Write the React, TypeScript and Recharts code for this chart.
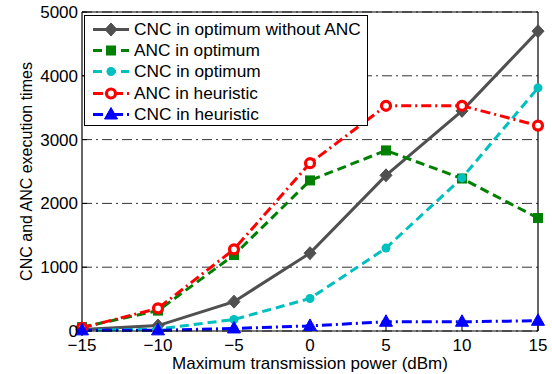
import React from 'react';
import { LineChart, Line, XAxis, YAxis, CartesianGrid, Label } from 'recharts';

const powerDbm = [-15, -10, -5, 0, 5, 10, 15];
const cncOptimumWithoutAnc = [25, 85, 460, 1220, 2440, 3450, 4700];
const ancOptimum = [60, 320, 1190, 2360, 2830, 2390, 1770];
const cncOptimum = [10, 30, 180, 510, 1300, 2400, 3810];
const ancHeuristic = [50, 355, 1280, 2630, 3530, 3530, 3220];
const cncHeuristic = [10, 10, 40, 80, 145, 145, 160];

const xTicks = [-15, -10, -5, 0, 5, 10, 15];
const yTicks = [0, 1000, 2000, 3000, 4000, 5000];

const xLabel = 'Maximum transmission power (dBm)';
const yLabel = 'CNC and ANC execution times';

const seriesNames = [
  'CNC in optimum without ANC',
  'ANC in optimum',
  'CNC in optimum',
  'ANC in heuristic',
  'CNC in heuristic',
];

type Shape = 'diamond' | 'square' | 'circle' | 'ring' | 'triangle';

const seriesStyles: { key: string; color: string; dash?: string; shape: Shape }[] = [
  { key: 's0', color: '#505050', shape: 'diamond' },
  { key: 's1', color: '#008000', dash: '9 5', shape: 'square' },
  { key: 's2', color: '#00BFBF', dash: '9 5', shape: 'circle' },
  { key: 's3', color: '#FF0000', dash: '10 4 2 4', shape: 'ring' },
  { key: 's4', color: '#0000FF', dash: '10 4 2 4', shape: 'triangle' },
];

const seriesValues = [cncOptimumWithoutAnc, ancOptimum, cncOptimum, ancHeuristic, cncHeuristic];

const data = powerDbm.map((x, i) => {
  const row: Record<string, number> = { x };
  seriesValues.forEach((vals, s) => {
    row['s' + s] = vals[i];
  });
  return row;
});

const FONT = '"Liberation Sans", Arial, Helvetica, sans-serif';

function markerEl(shape: Shape, color: string, cx: number, cy: number, key?: string | number) {
  switch (shape) {
    case 'diamond':
      return (
        <polygon key={key} points={`${cx},${cy - 6.5} ${cx + 6},${cy} ${cx},${cy + 6.5} ${cx - 6},${cy}`} fill={color} stroke={color} strokeWidth={1} />
      );
    case 'square':
      return <rect key={key} x={cx - 4.5} y={cy - 4.5} width={9} height={9} fill={color} stroke={color} strokeWidth={1} />;
    case 'circle':
      return <circle key={key} cx={cx} cy={cy} r={4.5} fill={color} />;
    case 'ring':
      return <circle key={key} cx={cx} cy={cy} r={4.5} fill="#fff" stroke={color} strokeWidth={3.2} />;
    case 'triangle':
    default:
      return (
        <polygon key={key} points={`${cx},${cy - 7} ${cx + 6.5},${cy + 4.5} ${cx - 6.5},${cy + 4.5}`} fill={color} stroke={color} strokeWidth={1} />
      );
  }
}

const makeDot = (shape: Shape, color: string) => (props: any) => {
  const { cx, cy, index } = props;
  if (cx == null || cy == null) return <g key={`d${index}`} />;
  return <g key={`d${index}`}>{markerEl(shape, color, cx, cy)}</g>;
};

const fmt = (v: number) => (v < 0 ? '\u2212' + Math.abs(v) : String(v));

function LegendBox() {
  return (
    <div
      style={{
        position: 'absolute',
        left: 84,
        top: 15,
        width: 284,
        height: 111,
        boxSizing: 'border-box',
        border: '1.3px solid #000',
        background: '#fff',
        fontFamily: FONT,
        fontSize: 17.3,
        color: '#000',
      }}
    >
      {seriesStyles.map((s, i) => (
        <div
          key={s.key}
          style={{ position: 'absolute', left: 6, top: 3 + i * 21.2, height: 21, display: 'flex', alignItems: 'center', whiteSpace: 'nowrap' }}
        >
          <svg width={40} height={21} style={{ display: 'block' }}>
            <line x1={2} y1={10.5} x2={38} y2={10.5} stroke={s.color} strokeWidth={3} strokeDasharray={s.dash} />
            {markerEl(s.shape, s.color, 20, 10.5)}
          </svg>
          <span style={{ marginLeft: 3, lineHeight: '21px' }}>{seriesNames[i]}</span>
        </div>
      ))}
    </div>
  );
}

export default function App() {
  return (
    <div style={{ position: 'absolute', left: 0, top: 0, width: 552, height: 374, background: '#fff', fontFamily: FONT }}>
      <LineChart width={552} height={374} data={data} margin={{ top: 0, right: 0, bottom: 0, left: 0 }}>
        <CartesianGrid
          xAxisId="b"
          yAxisId="l"
          vertical={false}
          stroke="#333"
          strokeWidth={1}
          strokeDasharray="10 4 2 4"
        />
        <XAxis
          xAxisId="b"
          dataKey="x"
          type="number"
          domain={[-15, 15]}
          ticks={xTicks}
          tickFormatter={fmt}
          height={43}
          tickSize={-5}
          tickMargin={13}
          axisLine={{ stroke: '#000', strokeWidth: 1.2 }}
          tickLine={{ stroke: '#000', strokeWidth: 1 }}
          tick={{ fill: '#000', fontSize: 17, fontFamily: FONT }}
          interval={0}
        >
          <Label value={xLabel} position="insideBottom" offset={5} style={{ fontSize: 17, fill: '#000', fontFamily: FONT }} />
        </XAxis>
        <XAxis
          xAxisId="t"
          orientation="top"
          dataKey="x"
          type="number"
          domain={[-15, 15]}
          ticks={xTicks}
          height={12}
          tickSize={-5}
          tick={false}
          axisLine={{ stroke: '#000', strokeWidth: 1.2 }}
          tickLine={{ stroke: '#000', strokeWidth: 1 }}
        />
        <YAxis
          yAxisId="l"
          type="number"
          domain={[0, 5000]}
          ticks={yTicks}
          width={82}
          tickSize={-5}
          tickMargin={9}
          axisLine={{ stroke: '#000', strokeWidth: 1.2 }}
          tickLine={{ stroke: '#000', strokeWidth: 1 }}
          tick={{ fill: '#000', fontSize: 17, fontFamily: FONT }}
          interval={0}
        >
          <Label
            position="insideLeft"
            content={(props: any) => {
              const vb = props.viewBox || { x: 0, y: 0, width: 0, height: 0 };
              const cx = vb.x + 32;
              const cy = vb.y + vb.height / 2;
              return (
                <text
                  x={cx}
                  y={cy}
                  transform={`rotate(-90, ${cx}, ${cy})`}
                  textAnchor="middle"
                  fontSize={16}
                  fill="#000"
                  fontFamily={FONT}
                >
                  {yLabel}
                </text>
              );
            }}
          />
        </YAxis>
        <YAxis
          yAxisId="r"
          orientation="right"
          type="number"
          domain={[0, 5000]}
          ticks={yTicks}
          width={14}
          tickSize={-5}
          tick={false}
          axisLine={{ stroke: '#000', strokeWidth: 1.2 }}
          tickLine={{ stroke: '#000', strokeWidth: 1 }}
        />
        {seriesStyles.map((s, i) => (
          <Line
            key={s.key}
            xAxisId="b"
            yAxisId="l"
            dataKey={s.key}
            name={seriesNames[i]}
            type="linear"
            stroke={s.color}
            strokeWidth={3}
            strokeDasharray={s.dash}
            dot={makeDot(s.shape, s.color)}
            activeDot={false}
            isAnimationActive={false}
          />
        ))}
      </LineChart>
      <LegendBox />
    </div>
  );
}
